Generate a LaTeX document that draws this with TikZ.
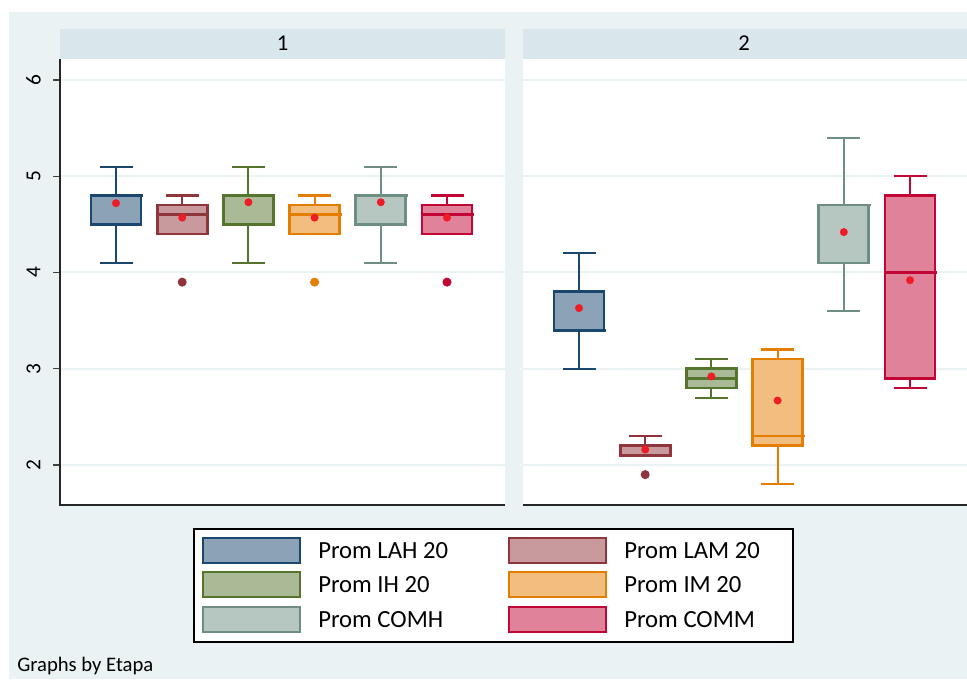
\documentclass[tikz,border=0pt]{standalone}
\usepackage{fontspec}
\setmainfont{Carlito}
\usetikzlibrary{positioning}

% Stata-like palette: line colour (l...) and lighter fill (f...)
\definecolor{bgouter}{RGB}{234,242,243}
\definecolor{stripbg}{RGB}{217,230,235}
\definecolor{gridc}{RGB}{234,242,243}
\definecolor{meanred}{RGB}{238,28,37}
\definecolor{lnavy}{RGB}{26,71,111}     \definecolor{fnavy}{RGB}{140,163,183}
\definecolor{lmaroon}{RGB}{144,53,59}   \definecolor{fmaroon}{RGB}{200,154,157}
\definecolor{lgreen}{RGB}{85,117,47}    \definecolor{fgreen}{RGB}{170,186,151}
\definecolor{lorange}{RGB}{227,126,0}   \definecolor{forange}{RGB}{241,190,127}
\definecolor{lteal}{RGB}{110,142,132}   \definecolor{fteal}{RGB}{182,198,193}
\definecolor{lcranb}{RGB}{193,5,52}     \definecolor{fcranb}{RGB}{224,130,153}

\begin{document}
\begin{tikzpicture}[
    x=0.75pt, y=0.75pt, % one unit = one pixel of the layout
    whiskstyle/.style={line width=1.6pt}, % Whiskers and caps
    boxstyle/.style={line width=2pt}, % Box outline and median
    meanstyle/.style={fill=meanred}, % Mean marker
    axis/.style={line width=1pt, draw=black!85}, % Axis lines
    tickstyle/.style={line width=1pt, draw=black!75}, % Tick marks
    gridstyle/.style={line width=1.5pt, draw=gridc}, % Grid lines
    labelstyle/.style={font=\fontsize{16}{19}\selectfont, rotate=90}, % y labels
    headstyle/.style={font=\fontsize{17}{20}\selectfont}, % Panel titles
    legkey/.style={line width=1.5pt, minimum width=72.75pt, minimum height=18.75pt, inner sep=0pt, outer sep=0pt}, % Legend swatches
    legtext/.style={font=\fontsize{18.5}{22}\selectfont, inner sep=0pt} % Legend texts
]

    % Box plot: x, lower whisker, q1, median, q3, upper whisker, mean, colour
    \def\statbox#1#2#3#4#5#6#7#8{%
        \draw[whiskstyle, l#8] (#1,#2) -- (#1,#3) (#1,#5) -- (#1,#6);
        \draw[whiskstyle, l#8] (#1-16.5,#2) -- (#1+16.5,#2) (#1-16.5,#6) -- (#1+16.5,#6);
        \filldraw[boxstyle, draw=l#8, fill=f#8] (#1-25,#3) rectangle (#1+25,#5);
        \draw[boxstyle, l#8] (#1-25,#4) -- (#1+27,#4);
        \fill[meanstyle] (#1,#7) circle (3pt);
    }

    \useasboundingbox (0,0) rectangle (967,679);

    % --- Background and panels ---
    \fill[bgouter] (9,0) rectangle (967,667);
    \fill[white] (60,174) rectangle (505,620);
    \fill[white] (523,174) rectangle (967,620);
    \fill[stripbg] (60,620) rectangle (505,650);
    \fill[stripbg] (523,620) rectangle (967,650);
    \node[headstyle] (head1) at (282.5,636) {1};
    \node[headstyle] (head2) at (744,636) {2};

    % --- Panel 1 ---
    \begin{scope}[shift={(60,21.5)}, y=72.1875pt]
        \foreach \v in {2,...,6} {
            \draw[gridstyle] (0,\v) -- (445,\v);
            \draw[tickstyle] (-7,\v) -- (0,\v);
            \node[labelstyle] (ylab\v) at (-26.5,\v) {\v};
        }
        \statbox{56}{4.1}{4.5}{4.8}{4.8}{5.1}{4.72}{navy}
        \statbox{122.2}{4.4}{4.4}{4.6}{4.7}{4.8}{4.57}{maroon}
        \statbox{188.4}{4.1}{4.5}{4.8}{4.8}{5.1}{4.73}{green}
        \statbox{254.6}{4.4}{4.4}{4.6}{4.7}{4.8}{4.57}{orange}
        \statbox{320.8}{4.1}{4.5}{4.8}{4.8}{5.1}{4.73}{teal}
        \statbox{387}{4.4}{4.4}{4.6}{4.7}{4.8}{4.57}{cranb}
        % Outside values
        \fill[lmaroon] (122.2,3.9) circle (3.4pt);
        \fill[lorange] (254.6,3.9) circle (3.4pt);
        \fill[lcranb] (387,3.9) circle (3.4pt);
    \end{scope}

    % --- Panel 2 ---
    \begin{scope}[shift={(523,21.5)}, y=72.1875pt]
        \foreach \v in {2,...,6}
            \draw[gridstyle] (0,\v) -- (444,\v);
        \statbox{56}{3.0}{3.4}{3.4}{3.8}{4.2}{3.63}{navy}
        \statbox{122.2}{2.1}{2.1}{2.2}{2.2}{2.3}{2.16}{maroon}
        \statbox{188.4}{2.7}{2.8}{2.9}{3.0}{3.1}{2.92}{green}
        \statbox{254.6}{1.8}{2.2}{2.3}{3.1}{3.2}{2.67}{orange}
        \statbox{320.8}{3.6}{4.1}{4.7}{4.7}{5.4}{4.42}{teal}
        \statbox{387}{2.8}{2.9}{4.0}{4.8}{5.0}{3.92}{cranb}
        % Outside value
        \fill[lmaroon] (122.2,1.9) circle (3.4pt);
    \end{scope}

    % --- Axes ---
    \draw[axis] (60,620) -- (60,174) -- (505,174);
    \draw[axis] (523,174) -- (967,174);

    % --- Legend ---
    \filldraw[fill=white, draw=black, line width=0.8pt] (194,37) rectangle (793,150);
    \node[legkey, draw=lnavy, fill=fnavy] (keyLAH) at (251.5,128.5) {};
    \node[legkey, draw=lgreen, fill=fgreen] (keyIH) at (251.5,94.5) {};
    \node[legkey, draw=lteal, fill=fteal] (keyCOMH) at (251.5,59.5) {};
    \node[legkey, draw=lmaroon, fill=fmaroon] (keyLAM) at (557.5,128.5) {};
    \node[legkey, draw=lorange, fill=forange] (keyIM) at (557.5,94.5) {};
    \node[legkey, draw=lcranb, fill=fcranb] (keyCOMM) at (557.5,59.5) {};
    \node[legtext, right=13.5pt of keyLAH] (txtLAH) {Prom LAH 20};
    \node[legtext, right=13.5pt of keyIH] (txtIH) {Prom IH 20};
    \node[legtext, right=13.5pt of keyCOMH] (txtCOMH) {Prom COMH};
    \node[legtext, right=13.5pt of keyLAM] (txtLAM) {Prom LAM 20};
    \node[legtext, right=13.5pt of keyIM] (txtIM) {Prom IM 20};
    \node[legtext, right=13.5pt of keyCOMM] (txtCOMM) {Prom COMM};

    % --- Note ---
    \node[font=\fontsize{15.5}{18}\selectfont, anchor=base west, inner sep=0pt] (note) at (17,8) {Graphs by Etapa};

\end{tikzpicture}
\end{document}
